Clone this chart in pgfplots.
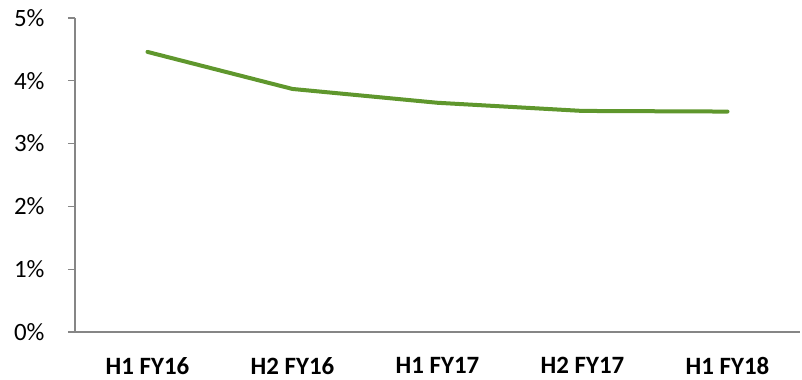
\documentclass[border=0pt]{standalone}
\usepackage{pgfplots}
\pgfplotsset{compat=1.18}
\usepackage{fontspec}
\setmainfont{Carlito}
\definecolor{linegreen}{RGB}{95,151,45}
\definecolor{axgray}{RGB}{134,134,134}
\begin{document}
\begin{tikzpicture}
\begin{axis}[
  name=ax,
  scale only axis,
  width=725bp, height=314bp,
  xmin=-0.5, xmax=4.5,
  ymin=0, ymax=5,
  xtick=data,
  xticklabels={H1 FY16, H2 FY16, H1 FY17, H2 FY17, H1 FY18},
  ytick={0,1,2,3,4,5},
  yticklabel={\pgfmathprintnumber{\tick}\%},
  /pgf/number format/assume math mode=true,
  axis x line*=bottom,
  axis y line*=left,
  axis line style={axgray, line width=1.3bp, -},
  x axis line style={-},
  y axis line style={-},
  major x tick style={draw=none},
  major y tick style={axgray, line width=1.3bp},
  tick align=outside,
  major tick length=7bp,
  yticklabel style={font=\fontsize{25}{30}\selectfont, xshift=-20bp},
  xticklabel style={font=\fontsize{25}{30}\selectfont\bfseries, inner sep=0pt, yshift=-18bp},
  clip=false,
]
\addplot[linegreen, line width=4bp, line cap=round, line join=round] coordinates {
  (0,4.46) (1,3.87) (2,3.65) (3,3.52) (4,3.51)
};
\end{axis}
\path ([xshift=-75bp,yshift=-48bp]ax.south west) rectangle ([xshift=2bp,yshift=18bp]ax.north east);
\end{tikzpicture}
\end{document}
